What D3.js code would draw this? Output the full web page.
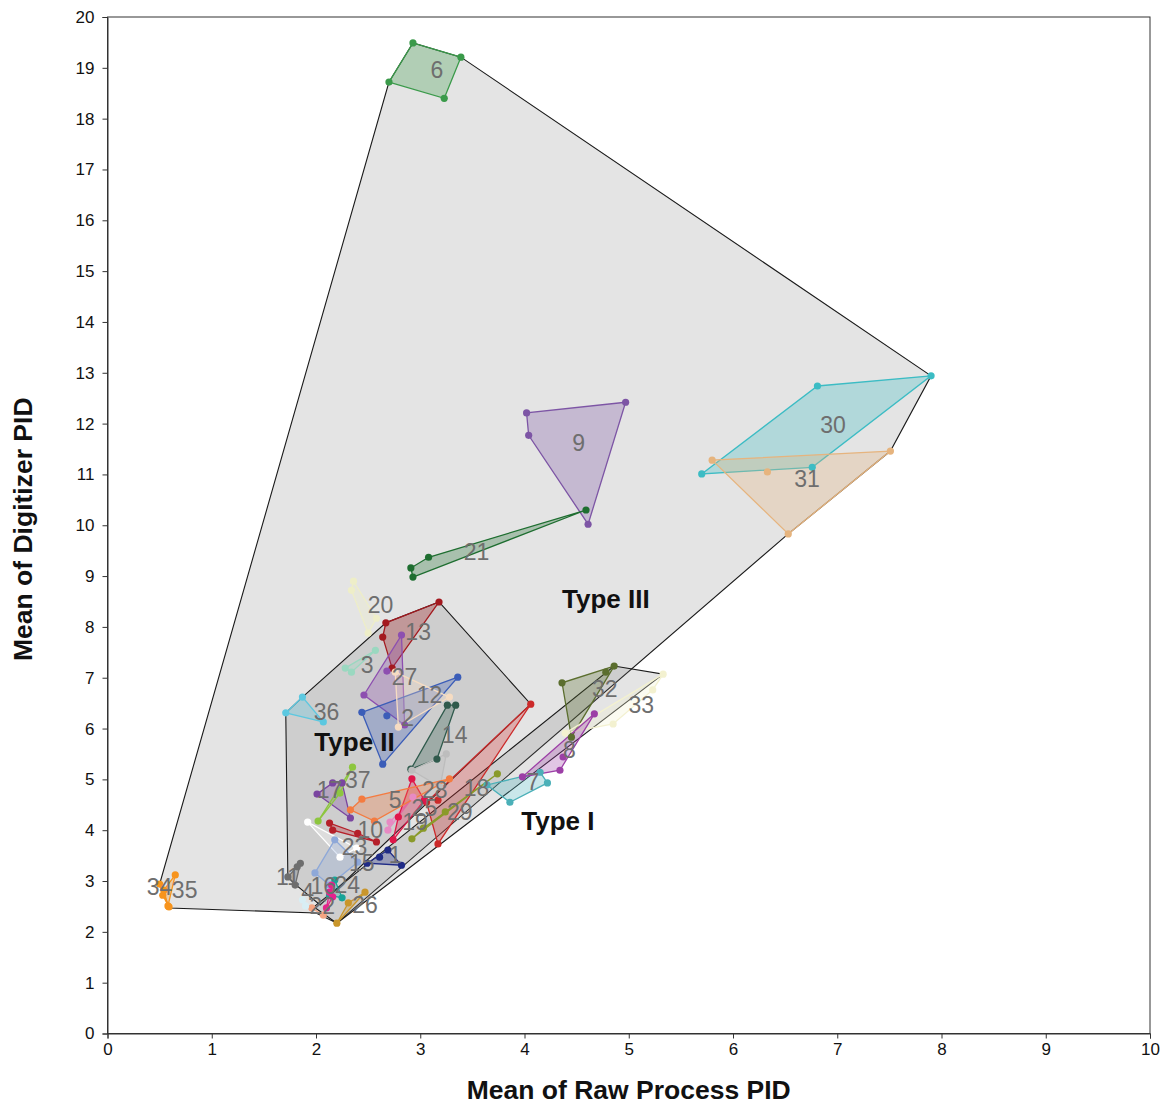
<!DOCTYPE html>
<html>
<head>
<meta charset="utf-8">
<script src="https://cdn.jsdelivr.net/npm/d3@7"></script>
<style>
  body { margin: 0; background: #fff; }
  svg { font-family: "Liberation Sans", Arial, sans-serif; }
</style>
</head>
<body>
<div id="chart"></div>
<script>
// axis ticks
const xTicks = [0, 1, 2, 3, 4, 5, 6, 7, 8, 9, 10];
const yTicks = [0, 1, 2, 3, 4, 5, 6, 7, 8, 9, 10, 11, 12, 13, 14, 15, 16, 17, 18, 19, 20];

// outlines of the three types (x = raw process PID, y = digitizer PID)
const typeThree = [[2.70, 18.72], [2.93, 19.49], [3.39, 19.21], [7.90, 12.94], [7.51, 11.46], [6.53, 9.83],
    [2.20, 2.17], [2.00, 2.37], [0.59, 2.47], [0.50, 2.94]];
const typeTwo = [[1.71, 6.31], [1.87, 6.62], [2.67, 8.08], [3.18, 8.49], [4.06, 6.48],
    [2.04, 2.53], [1.81, 2.92], [1.73, 3.08]];
const typeOne = [[1.98, 2.49], [4.86, 7.23], [5.33, 7.07], [2.20, 2.17]];

const typeNames = ['Type III', 'Type II', 'Type I'];
const typeLabelPos = [[4.78, 8.55], [2.37, 5.73], [4.32, 4.18]];

// group ids, colours, points and label anchors
const groupIds = ['6', '9', '21', '30', '31', '34', '35', '36', '20', '3', '13', '27', '12', '2', '14', '28',
    '18', '29', '32', '33', '7', '8', '19', '25', '5', '17', '37', '10', '23', '15', '1', '11', '24', '16',
    '22', '4', '26'];

const groupColors = ['#3a9a4a', '#7d55a5', '#1e6e30', '#3cbcc4', '#e6b47e', '#f7941d', '#f7941d', '#5cc8e0',
    '#eeeec8', '#9ad8c0', '#a3191f', '#8d4fb0', '#3b5db8', '#f6dcc2', '#2f5a4c', '#bdbdbd',
    '#cc2a2a', '#8a9a2a', '#5b6e2e', '#f3f1d0', '#4bb0b8', '#9c3fa6', '#e78ac3', '#e0174a', '#f47b40',
    '#7a45a0', '#8dc63f', '#b5202a', '#ffffff', '#8ea8d8', '#1f2b86', '#6e6e6e', '#17a398', '#e3238c',
    '#f4a582', '#d8eef4', '#c9962b'];

const groupPoints = [
    [[2.93, 19.49], [3.39, 19.21], [3.23, 18.40], [2.70, 18.72]],
    [[4.02, 12.21], [4.97, 12.42], [4.04, 11.77], [4.61, 10.02]],
    [[4.59, 10.30], [3.08, 9.37], [2.91, 9.16], [2.93, 8.98]],
    [[7.90, 12.94], [6.81, 12.74], [5.70, 11.01], [6.76, 11.14]],
    [[5.80, 11.28], [7.51, 11.46], [6.53, 9.83], [6.33, 11.05]],
    [[0.50, 2.94], [0.53, 2.72], [0.59, 2.49]],
    [[0.65, 3.12], [0.58, 2.51], [0.54, 2.82]],
    [[1.87, 6.62], [1.71, 6.31], [2.07, 6.13]],
    [[2.36, 8.90], [2.34, 8.72], [2.58, 8.17], [2.50, 7.88]],
    [[2.57, 7.54], [2.28, 7.19], [2.34, 7.11]],
    [[3.18, 8.49], [2.67, 8.08], [2.64, 7.80], [2.73, 7.19]],
    [[2.82, 7.84], [2.68, 7.13], [2.46, 6.66], [2.85, 6.07]],
    [[3.36, 7.01], [2.44, 6.32], [2.68, 6.25], [2.64, 5.30]],
    [[3.28, 6.62], [2.79, 6.03], [2.76, 7.11]],
    [[3.26, 6.46], [3.34, 6.46], [3.16, 5.40], [2.91, 5.20]],
    [[3.25, 5.50], [2.92, 5.18], [3.19, 4.85]],
    [[4.06, 6.48], [3.17, 3.73], [3.06, 4.55], [3.17, 4.59]],
    [[3.74, 5.11], [3.24, 4.36], [3.03, 4.04], [2.92, 3.83]],
    [[4.36, 6.90], [4.86, 7.23], [4.78, 7.11], [4.45, 5.83]],
    [[5.33, 7.07], [5.23, 6.76], [4.85, 6.09], [4.39, 5.91]],
    [[3.64, 4.89], [3.86, 4.55], [4.22, 4.93], [4.15, 5.14]],
    [[3.98, 5.05], [4.34, 5.18], [4.37, 5.44], [4.67, 6.29]],
    [[2.71, 4.16], [2.69, 4.00], [2.93, 4.65]],
    [[2.92, 5.01], [2.79, 4.26], [2.74, 3.81], [3.04, 4.59]],
    [[2.44, 4.61], [2.33, 4.40], [2.56, 4.18], [3.28, 5.01]],
    [[2.01, 4.71], [2.16, 4.93], [2.25, 4.93], [2.33, 4.24]],
    [[2.35, 5.24], [2.02, 4.18], [2.23, 4.73]],
    [[2.13, 4.14], [2.16, 4.00], [2.40, 3.94], [2.58, 3.77]],
    [[1.92, 4.16], [2.23, 3.47], [2.39, 3.65]],
    [[2.18, 3.81], [1.99, 3.16], [2.40, 3.37], [2.13, 2.92]],
    [[2.69, 3.61], [2.61, 3.47], [2.49, 3.35], [2.82, 3.31]],
    [[1.85, 3.35], [1.82, 3.28], [1.80, 2.92], [1.73, 3.08]],
    [[2.18, 3.02], [2.25, 2.67], [2.13, 2.72]],
    [[2.15, 2.92], [2.13, 2.78], [2.16, 2.69], [2.10, 2.47]],
    [[1.96, 2.47], [2.07, 2.33]],
    [[1.90, 2.51], [1.87, 2.63]],
    [[2.47, 2.78], [2.31, 2.57], [2.20, 2.17]]
];

const groupLabelPos = [
    [3.16, 18.95], [4.52, 11.62], [3.54, 9.47], [6.96, 11.97], [6.71, 10.91], [0.50, 2.88], [0.74, 2.82],
    [2.10, 6.32], [2.62, 8.43], [2.49, 7.25], [2.98, 7.90], [2.85, 7.01], [3.09, 6.66], [2.88, 6.21],
    [3.33, 5.87], [3.14, 4.79], [3.54, 4.83], [3.38, 4.36], [4.77, 6.78], [5.12, 6.46], [4.08, 4.95],
    [4.43, 5.57], [2.95, 4.16], [3.04, 4.44], [2.76, 4.59], [2.13, 4.79], [2.40, 4.99], [2.52, 4.00],
    [2.37, 3.67], [2.44, 3.35], [2.76, 3.51], [1.73, 3.08], [2.30, 2.92], [2.07, 2.90], [2.06, 2.51],
    [1.92, 2.78], [2.47, 2.53]
];

const width = 1167;
const height = 1104;
const margin = { top: 17, right: 17, bottom: 70.5, left: 107.5 };

const svg = d3.select('#chart')
    .append('svg')
    .attr('width', width)
    .attr('height', height);

const x = d3.scaleLinear()
    .domain([0, 10])
    .range([margin.left, width - margin.right]);

const y = d3.scaleLinear()
    .domain([0, 20])
    .range([height - margin.bottom, margin.top]);

const toPx = p => [x(p[0]), y(p[1])];

// type outlines
[typeThree, typeTwo, typeOne].forEach(poly => {
    svg.append('path')
        .attr('d', 'M' + poly.map(toPx).join('L') + 'Z')
        .attr('fill', '#7a7a7a')
        .attr('fill-opacity', 0.2)
        .attr('stroke', '#1a1a1a')
        .attr('stroke-width', 1.1);
});

// group shapes
groupPoints.forEach((pts, i) => {
    const px = pts.map(toPx);
    const hull = px.length > 2 ? d3.polygonHull(px) : px;
    svg.append('path')
        .attr('d', 'M' + hull.join('L') + (px.length > 2 ? 'Z' : ''))
        .attr('fill', groupColors[i])
        .attr('fill-opacity', 0.3)
        .attr('stroke', groupColors[i])
        .attr('stroke-width', 1.3);
});

// group points
groupPoints.forEach((pts, i) => {
    svg.append('g')
        .selectAll('circle')
        .data(pts)
        .join('circle')
        .attr('cx', d => x(d[0]))
        .attr('cy', d => y(d[1]))
        .attr('r', 3.6)
        .attr('fill', groupColors[i]);
});

// group labels
svg.append('g')
    .selectAll('text')
    .data(groupIds)
    .join('text')
    .attr('x', (d, i) => x(groupLabelPos[i][0]))
    .attr('y', (d, i) => y(groupLabelPos[i][1]))
    .attr('dy', '0.35em')
    .attr('text-anchor', 'middle')
    .attr('font-size', 23)
    .attr('fill', '#6e6e6e')
    .text(d => d);

// type labels
svg.append('g')
    .selectAll('text')
    .data(typeNames)
    .join('text')
    .attr('x', (d, i) => x(typeLabelPos[i][0]))
    .attr('y', (d, i) => y(typeLabelPos[i][1]))
    .attr('dy', '0.35em')
    .attr('text-anchor', 'middle')
    .attr('font-size', 26)
    .attr('font-weight', 'bold')
    .attr('fill', '#111')
    .text(d => d);

// frame
svg.append('rect')
    .attr('x', x(0))
    .attr('y', y(20))
    .attr('width', x(10) - x(0))
    .attr('height', y(0) - y(20))
    .attr('fill', 'none')
    .attr('stroke', '#333')
    .attr('stroke-width', 1);

// axes
const xAxis = svg.append('g')
    .attr('transform', `translate(0,${y(0)})`)
    .call(d3.axisBottom(x).tickValues(xTicks).tickSize(5).tickPadding(4).tickFormat(d3.format('d')));

const yAxis = svg.append('g')
    .attr('transform', `translate(${x(0)},0)`)
    .call(d3.axisLeft(y).tickValues(yTicks).tickSize(5).tickPadding(8).tickFormat(d3.format('d')));

[xAxis, yAxis].forEach(a => {
    a.select('.domain').attr('stroke', '#333');
    a.selectAll('line').attr('stroke', '#333');
    a.selectAll('text')
        .attr('font-family', '"Liberation Sans", Arial, sans-serif')
        .attr('font-size', 17)
        .attr('fill', '#111');
});

// axis titles
svg.append('text')
    .attr('x', (x(0) + x(10)) / 2)
    .attr('y', 1099)
    .attr('text-anchor', 'middle')
    .attr('font-size', 26.5)
    .attr('font-weight', 'bold')
    .attr('fill', '#111')
    .text('Mean of Raw Process PID');

svg.append('text')
    .attr('transform', `translate(32,${(y(0) + y(20)) / 2 + 4}) rotate(-90)`)
    .attr('text-anchor', 'middle')
    .attr('font-size', 26.5)
    .attr('font-weight', 'bold')
    .attr('fill', '#111')
    .text('Mean of Digitizer PID');
</script>
</body>
</html>
